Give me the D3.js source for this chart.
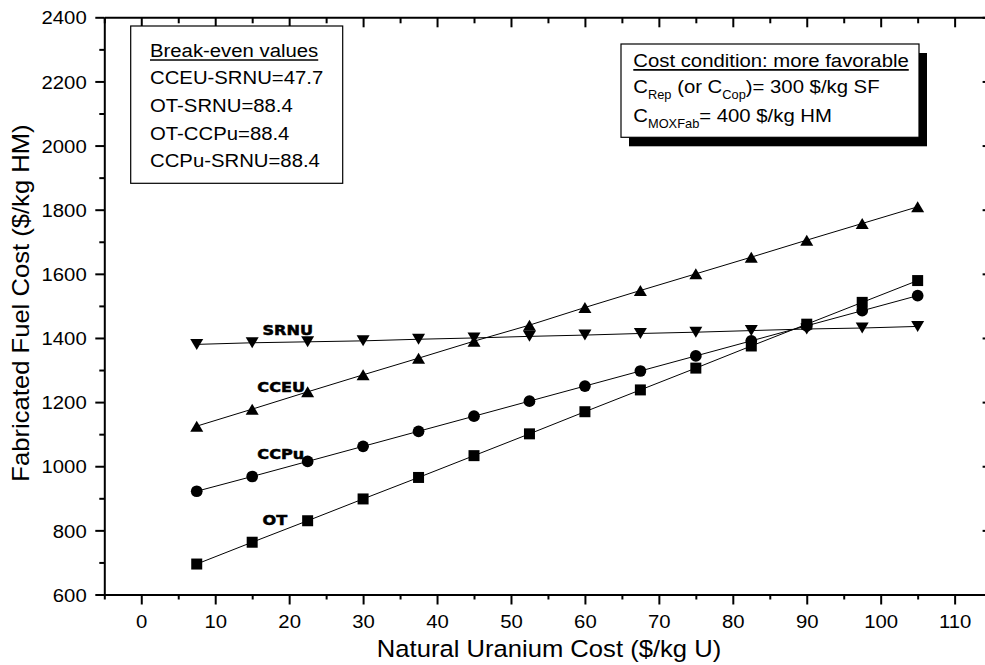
<!DOCTYPE html>
<html>
<head>
<meta charset="utf-8">
<script src="https://cdn.jsdelivr.net/npm/d3@7"></script>
<style>
  html, body { margin: 0; padding: 0; background: #fff; }
  svg { display: block; }
</style>
</head>
<body>
<svg id="chart" width="985" height="665"></svg>
<script>
// Natural uranium cost ($/kg U) at which each fuel cycle was evaluated
const uraniumCost = [7.5, 15, 22.5, 30, 37.5, 45, 52.5, 60, 67.5, 75, 82.5, 90, 97.5, 105];

// Fabricated fuel cost ($/kg HM) per fuel cycle option
const costOT   = [695, 763, 830, 898, 965, 1033, 1101, 1170, 1238, 1306, 1375, 1443, 1511, 1579];
const costCCPu = [922, 968, 1015, 1062, 1109, 1156, 1203, 1250, 1297, 1344, 1391, 1438, 1485, 1532];
const costCCEU = [1125, 1178, 1232, 1285, 1337, 1390, 1440, 1495, 1548, 1600, 1652, 1705, 1757, 1809];
const costSRNU = [1380, 1385, 1388, 1391, 1396, 1400, 1405, 1409, 1414, 1418, 1423, 1428, 1431, 1436];

// Axis ticks
const xTicksMajor = [0, 10, 20, 30, 40, 50, 60, 70, 80, 90, 100, 110];
const xTicksMinor = [-5, 5, 15, 25, 35, 45, 55, 65, 75, 85, 95, 105, 115];
const yTicksMajor = [600, 800, 1000, 1200, 1400, 1600, 1800, 2000, 2200, 2400];
const yTicksMinor = [700, 900, 1100, 1300, 1500, 1700, 1900, 2100, 2300];

// Annotation text
const breakEvenTitle = "Break-even values";
const breakEvenLines = ["CCEU-SRNU=47.7", "OT-SRNU=88.4", "OT-CCPu=88.4", "CCPu-SRNU=88.4"];
const conditionTitle = "Cost condition: more favorable";

const xTitle = "Natural Uranium Cost ($/kg U)";
const yTitle = "Fabricated Fuel Cost ($/kg HM)";

const FONT = "'Liberation Sans', Arial, Helvetica, sans-serif";
const BOLD_FONT = "'DejaVu Sans', 'Liberation Sans', Arial, sans-serif";
const STRETCH = 1.07;

const svg = d3.select("#chart");
svg.append("rect").attr("width", 985).attr("height", 665).attr("fill", "#fff");

const x = d3.scaleLinear().domain([-5, 115]).range([104.3, 991.6]);
const y = d3.scaleLinear().domain([600, 2400]).range([594.5, 17.3]);

// Group with a slight horizontal stretch applied to text
function textGroup(parent, px, py, sx, rot) {
  return parent.append("g")
    .attr("transform", `translate(${px},${py})${rot ? ` rotate(${rot})` : ""} scale(${sx},1)`);
}

function styleAxis(g, width) {
  g.attr("font-family", FONT).attr("font-size", 19);
  g.select(".domain").attr("stroke", "#000").attr("stroke-width", 2);
  g.selectAll(".tick line").attr("stroke", "#000").attr("stroke-width", width);
}

// ---- Bottom axis ----
const gxMajor = svg.append("g")
  .attr("transform", `translate(0,${y(600)})`)
  .call(d3.axisBottom(x).tickValues(xTicksMajor).tickSize(10).tickSizeOuter(0).tickFormat(d3.format("d")));
styleAxis(gxMajor, 2);
gxMajor.selectAll(".tick text")
  .attr("y", 34).attr("dy", null).attr("fill", "#000")
  .attr("transform", `scale(${STRETCH},1)`);

const gxMinor = svg.append("g")
  .attr("transform", `translate(0,${y(600)})`)
  .call(d3.axisBottom(x).tickValues(xTicksMinor).tickSize(5).tickSizeOuter(0).tickFormat(""));
styleAxis(gxMinor, 2);
gxMinor.select(".domain").remove();

// ---- Top axis (ticks only, pointing inward) ----
const gtMajor = svg.append("g")
  .attr("transform", `translate(0,${y(2400)})`)
  .call(d3.axisTop(x).tickValues(xTicksMajor).tickSize(-10).tickSizeOuter(0).tickFormat(""));
styleAxis(gtMajor, 2);
const gtMinor = svg.append("g")
  .attr("transform", `translate(0,${y(2400)})`)
  .call(d3.axisTop(x).tickValues(xTicksMinor).tickSize(-6).tickSizeOuter(0).tickFormat(""));
styleAxis(gtMinor, 2);
gtMinor.select(".domain").remove();

// ---- Left axis ----
const gyMajor = svg.append("g")
  .attr("transform", `translate(${x(-5)},0)`)
  .call(d3.axisLeft(y).tickValues(yTicksMajor).tickSize(9).tickSizeOuter(0).tickFormat(d3.format("d")));
styleAxis(gyMajor, 2);
gyMajor.selectAll(".tick text")
  .attr("x", -16.45).attr("dy", "0.35em").attr("fill", "#000")
  .attr("transform", `scale(${STRETCH},1)`);
const gyMinor = svg.append("g")
  .attr("transform", `translate(${x(-5)},0)`)
  .call(d3.axisLeft(y).tickValues(yTicksMinor).tickSize(5).tickSizeOuter(0).tickFormat(""));
styleAxis(gyMinor, 2);
gyMinor.select(".domain").remove();

// ---- Right axis (ticks only, pointing inward) ----
const grMajor = svg.append("g")
  .attr("transform", `translate(${x(115)},0)`)
  .call(d3.axisRight(y).tickValues(yTicksMajor).tickSize(-9).tickSizeOuter(0).tickFormat(""));
styleAxis(grMajor, 2);
const grMinor = svg.append("g")
  .attr("transform", `translate(${x(115)},0)`)
  .call(d3.axisRight(y).tickValues(yTicksMinor).tickSize(-5).tickSizeOuter(0).tickFormat(""));
styleAxis(grMinor, 2);
grMinor.select(".domain").remove();

// ---- Axis titles ----
textGroup(svg, 549, 656.7, 1.09).append("text")
  .attr("text-anchor", "middle").attr("font-family", FONT).attr("font-size", 23.5)
  .attr("fill", "#000").text(xTitle);
textGroup(svg, 29, 303, 1.09, -90).append("text")
  .attr("text-anchor", "middle").attr("font-family", FONT).attr("font-size", 23.5)
  .attr("fill", "#000").text(yTitle);

// ---- Marker shapes ----
const triUp = {
  draw(ctx, size) {
    const w = 13, h = 11;
    ctx.moveTo(0, -h / 2); ctx.lineTo(w / 2, h / 2); ctx.lineTo(-w / 2, h / 2); ctx.closePath();
  }
};
const triDown = {
  draw(ctx, size) {
    const w = 13, h = 11;
    ctx.moveTo(0, h / 2); ctx.lineTo(w / 2, -h / 2); ctx.lineTo(-w / 2, -h / 2); ctx.closePath();
  }
};

const series = [
  { name: "OT",   values: costOT,   symbol: d3.symbolSquare, size: 121, label: [16.4, 816] },
  { name: "CCPu", values: costCCPu, symbol: d3.symbolCircle, size: 108, label: [15.7, 1022] },
  { name: "CCEU", values: costCCEU, symbol: triUp,           size: 100, label: [15.7, 1231] },
  { name: "SRNU", values: costSRNU, symbol: triDown,         size: 100, label: [16.4, 1409] }
];

const line = d3.line().x(d => x(d[0])).y(d => y(d[1]));

const plot = svg.append("g");
series.forEach(s => {
  const pts = uraniumCost.map((u, i) => [u, s.values[i]]);
  plot.append("path")
    .attr("d", line(pts))
    .attr("fill", "none").attr("stroke", "#000").attr("stroke-width", 1);
});
series.forEach(s => {
  const pts = uraniumCost.map((u, i) => [u, s.values[i]]);
  plot.selectAll(null).data(pts).join("path")
    .attr("transform", d => `translate(${x(d[0])},${y(d[1])})`)
    .attr("d", d3.symbol(s.symbol, s.size))
    .attr("fill", "#000");
});

// Series name labels (heavy weight)
series.forEach(s => {
  textGroup(svg, x(s.label[0]), y(s.label[1]), 1.15).append("text")
    .attr("font-family", BOLD_FONT).attr("font-weight", "bold").attr("font-size", 14)
    .attr("fill", "#000").attr("stroke", "#000").attr("stroke-width", 0.5)
    .text(s.name);
});

// ---- Break-even box ----
svg.append("rect")
  .attr("x", 130.7).attr("y", 26).attr("width", 212).attr("height", 157.3)
  .attr("fill", "#fff").attr("stroke", "#000").attr("stroke-width", 1.2);
{
  const g = textGroup(svg, 150, 57.3, STRETCH);
  const t = g.append("text")
    .attr("font-family", FONT).attr("font-size", 19).attr("fill", "#000").text(breakEvenTitle);
  const len = t.node().getComputedTextLength();
  g.append("line").attr("x1", 0).attr("x2", len).attr("y1", 2.8).attr("y2", 2.8)
    .attr("stroke", "#000").attr("stroke-width", 1.5);
  breakEvenLines.forEach((str, i) => {
    textGroup(svg, 150, 84.3 + i * 27.7, STRETCH).append("text")
      .attr("font-family", FONT).attr("font-size", 19).attr("fill", "#000").text(str);
  });
}

// ---- Cost condition box with drop shadow ----
svg.append("rect")
  .attr("x", 629).attr("y", 53).attr("width", 298).attr("height", 93.3).attr("fill", "#000");
svg.append("rect")
  .attr("x", 621).attr("y", 44).attr("width", 298).attr("height", 93.3)
  .attr("fill", "#fff").attr("stroke", "#000").attr("stroke-width", 1.2);
{
  const g = textGroup(svg, 633.3, 66.7, STRETCH);
  const t = g.append("text")
    .attr("font-family", FONT).attr("font-size", 19).attr("fill", "#000").text(conditionTitle);
  const len = t.node().getComputedTextLength();
  g.append("line").attr("x1", 0).attr("x2", len).attr("y1", 3.2).attr("y2", 3.2)
    .attr("stroke", "#000").attr("stroke-width", 1.8);

  // Text runs: [string, isSubscript]
  const rows = [
    [["C", false], ["Rep", true], [" (or C", false], ["Cop", true], [")= 300 $/kg SF", false]],
    [["C", false], ["MOXFab", true], ["= 400 $/kg HM", false]]
  ];
  rows.forEach((runs, r) => {
    const txt = textGroup(svg, 633.3, 93.3 + r * 28.4, STRETCH).append("text")
      .attr("font-family", FONT).attr("font-size", 19).attr("fill", "#000");
    let shifted = false;
    runs.forEach(([str, sub]) => {
      const ts = txt.append("tspan").text(str);
      if (sub && !shifted) { ts.attr("dy", 6).attr("font-size", 12); shifted = true; }
      else if (sub) { ts.attr("font-size", 12); }
      else if (shifted) { ts.attr("dy", -6); shifted = false; }
    });
  });
}
</script>
</body>
</html>
